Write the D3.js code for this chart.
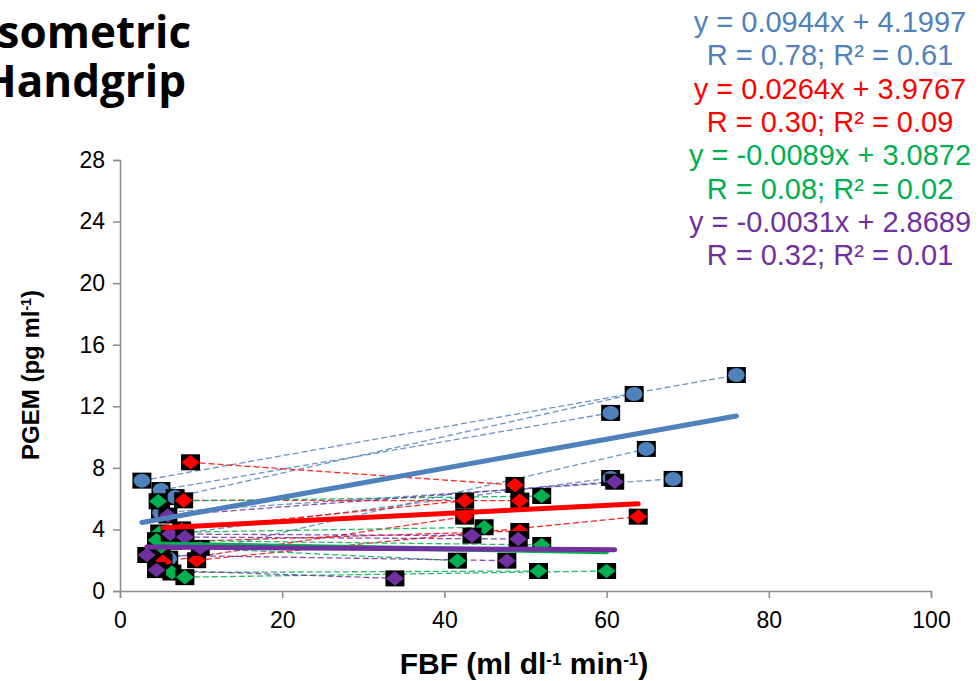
<!DOCTYPE html>
<html lang="en">
<head>
  <meta charset="UTF-8">
  <title>Isometric Handgrip - PGEM vs FBF</title>
  <style>
    body { margin: 0; background: #fff; }
    svg  { display: block; font-family: "Liberation Sans", Arial, sans-serif; }
    .axis path, .axis line { stroke: #8c8c8c; stroke-width: 1.5px; }
    .axis text { font-size: 23px; fill: #000; }
    .title { font-family: "Open Sans", Lato, sans-serif; font-weight: 700; font-size: 44px; }
    .axis-title { font-weight: bold; }
    .pair { fill: none; stroke-width: 1.3px; stroke-dasharray: 6 3; opacity: .85; }
    .trend { fill: none; stroke-width: 5px; stroke-linecap: round; }
    .eq { font-size: 29px; text-anchor: middle; }
  </style>
</head>
<body>
  <svg id="chart" width="979" height="681"></svg>

  <script src="https://d3js.org/d3.v7.min.js"></script>
  <script>
    /* ---------- data ---------- */
    // each rest point [FBF, PGEM] is joined by a dashed line to the handgrip point with the same index
    const blueRest   = [[2.7, 7.17], [5.05, 6.56], [6.8, 6.1], [6.0, 2.1], [5.0, 5.1], [5.5, 3.6]];
    const blueGrip   = [[76.0, 14.03], [60.5, 11.57], [63.4, 12.8], [64.9, 9.23], [68.2, 7.28], [60.5, 7.34]];

    const redRest    = [[8.7, 8.36], [7.85, 5.89], [7.6, 4.0], [5.3, 1.9], [9.45, 2.0], [6.5, 3.2]];
    const redGrip    = [[48.7, 6.89], [49.3, 5.87], [42.5, 5.87], [42.5, 4.83], [63.9, 4.83], [49.3, 3.9]];

    const greenRest  = [[4.7, 5.83], [4.9, 3.8], [5.1, 2.9], [6.4, 1.2], [8.0, 0.9], [4.5, 3.3]];
    const greenGrip  = [[52.0, 6.17], [44.9, 4.14], [41.6, 1.97], [51.6, 1.3], [60.0, 1.3], [52.0, 2.99]];

    const purpleRest = [[5.9, 4.9], [6.2, 3.7], [8.0, 3.5], [3.3, 2.34], [4.5, 1.36], [9.9, 2.8]];
    const purpleGrip = [[61.0, 7.1], [43.4, 3.6], [49.1, 3.38], [47.7, 1.97], [33.9, 0.82], null];

    // linear trend lines as printed on the chart
    const slopes     = [0.0944, 0.0264, -0.0089, -0.0031];
    const intercepts = [4.1997, 3.9767, 3.0872, 2.8689];
    const eqLabels   = ['y = 0.0944x + 4.1997', 'y = 0.0264x + 3.9767', 'y = -0.0089x + 3.0872', 'y = -0.0031x + 2.8689'];
    const rLabels    = ['R = 0.78; R² = 0.61', 'R = 0.30; R² = 0.09', 'R = 0.08; R² = 0.02', 'R = 0.32; R² = 0.01'];

    const xTicks = [0, 20, 40, 60, 80, 100];
    const yTicks = [0, 4, 8, 12, 16, 20, 24, 28];

    /* ---------- series setup ---------- */
    const colors  = ['#4f81bd', '#ff0000', '#00b050', '#7030a0'];
    const shapes  = ['circle', 'diamond', 'diamond', 'diamond'];
    const rests   = [blueRest, redRest, greenRest, purpleRest];
    const grips   = [blueGrip, redGrip, greenGrip, purpleGrip];

    const svg = d3.select('#chart');

    /* ---------- scales & axes ---------- */
    const x = d3.scaleLinear().domain([0, 100]).range([120, 931]);
    const y = d3.scaleLinear().domain([0, 28]).range([591, 160]);

    svg.append('g')
       .attr('class', 'axis')
       .attr('transform', `translate(0,${y(0)})`)
       .call(d3.axisBottom(x).tickValues(xTicks).tickSizeOuter(0).tickSize(7).tickPadding(14));

    svg.append('g')
       .attr('class', 'axis')
       .attr('transform', `translate(${x(0)},0)`)
       .call(d3.axisLeft(y).tickValues(yTicks).tickSizeOuter(0).tickSize(7).tickPadding(8));

    // axis titles
    const xt = svg.append('text')
       .attr('class', 'axis-title')
       .attr('x', 524).attr('y', 674)
       .attr('text-anchor', 'middle')
       .style('font-size', '30px');
    xt.append('tspan').text('FBF (ml dl');
    xt.append('tspan').attr('baseline-shift', 'super').style('font-size', '17px').text('-1');
    xt.append('tspan').text(' min');
    xt.append('tspan').attr('baseline-shift', 'super').style('font-size', '17px').text('-1');
    xt.append('tspan').text(')');

    const yt = svg.append('text')
       .attr('class', 'axis-title')
       .attr('transform', 'translate(39,375) rotate(-90)')
       .attr('text-anchor', 'middle')
       .style('font-size', '24px');
    yt.append('tspan').text('PGEM (pg ml');
    yt.append('tspan').attr('baseline-shift', 'super').style('font-size', '14px').text('-1');
    yt.append('tspan').text(')');

    /* ---------- dashed pair lines ---------- */
    rests.forEach((rest, s) => {
      const pairs = rest.map((r, i) => [r, grips[s][i]]).filter(p => p[1]);
      svg.selectAll(null)
         .data(pairs)
         .enter().append('line')
         .attr('class', 'pair')
         .attr('stroke', colors[s])
         .attr('x1', d => x(d[0][0])).attr('y1', d => y(d[0][1]))
         .attr('x2', d => x(d[1][0])).attr('y2', d => y(d[1][1]));
    });

    /* ---------- markers ---------- */
    rests.forEach((rest, s) => {
      const pts = rest.concat(grips[s].filter(Boolean));
      const m = svg.selectAll(null)
         .data(pts)
         .enter().append('g')
         .attr('transform', d => `translate(${x(d[0])},${y(d[1])})`);
      m.append('rect')
       .attr('x', -9.5).attr('y', -8).attr('width', 19).attr('height', 16)
       .attr('fill', '#000');
      if (shapes[s] === 'circle') {
        m.append('ellipse').attr('rx', 8.3).attr('ry', 7).attr('fill', colors[s]);
      } else {
        m.append('path').attr('d', 'M-9,0L0,-7.3L9,0L0,7.3Z').attr('fill', colors[s]);
      }
    });

    /* ---------- trend lines ---------- */
    rests.forEach((rest, s) => {
      const ext = d3.extent(rest.concat(grips[s].filter(Boolean)), d => d[0]);
      svg.append('line')
         .attr('class', 'trend')
         .attr('stroke', colors[s])
         .attr('x1', x(ext[0])).attr('y1', y(slopes[s] * ext[0] + intercepts[s]))
         .attr('x2', x(ext[1])).attr('y2', y(slopes[s] * ext[1] + intercepts[s]));
    });

    /* ---------- equations ---------- */
    eqLabels.forEach((eq, s) => {
      svg.append('text').attr('class', 'eq').attr('fill', colors[s])
         .attr('x', 830).attr('y', 32 + s * 66.6).text(eq);
      svg.append('text').attr('class', 'eq').attr('fill', colors[s])
         .attr('x', 830).attr('y', 32 + s * 66.6 + 33.3).text(rLabels[s]);
    });

    /* ---------- title (cut at the left edge, as in the original) ---------- */
    svg.append('text').attr('class', 'title').attr('x', -17).attr('y', 48).text('Isometric');
    svg.append('text').attr('class', 'title').attr('x', -17).attr('y', 97).text('Handgrip');
  </script>
</body>
</html>
